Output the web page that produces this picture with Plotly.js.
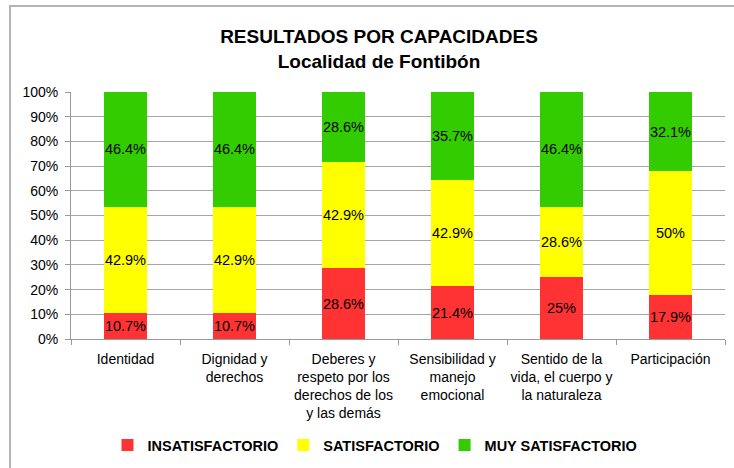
<!DOCTYPE html>
<html>
<head>
<meta charset="utf-8">
<script src="https://cdn.plot.ly/plotly-3.0.1.min.js"></script>
<style>
  html, body { margin: 0; padding: 0; background: #ffffff; overflow: hidden; }
  #frame { position: absolute; left: 9px; top: 5px; width: 800px; height: 600px; border: 2px solid #b4b4b4; box-sizing: border-box; }
  #chart { position: absolute; left: 0; top: 0; width: 734px; height: 468px; }
</style>
</head>
<body>
<div id="frame"></div>
<div id="chart"></div>
<script>
const categories = [
  "Identidad",
  "Dignidad y<br>derechos",
  "Deberes y<br>respeto por los<br>derechos de los<br>y las demás",
  "Sensibilidad y<br>manejo<br>emocional",
  "Sentido de la<br>vida, el cuerpo y<br>la naturaleza",
  "Participación"
];
const insatisfactorio = [10.7, 10.7, 28.6, 21.4, 25, 17.9];
const satisfactorio = [42.9, 42.9, 42.9, 42.9, 28.6, 50];
const muySatisfactorio = [46.4, 46.4, 28.6, 35.7, 46.4, 32.1];
const seriesNames = ["INSATISFACTORIO", "SATISFACTORIO", "MUY SATISFACTORIO"];
const seriesColors = ["#ff3333", "#ffff00", "#33cc00"];
const yTicks = [0, 10, 20, 30, 40, 50, 60, 70, 80, 90, 100];

const FONT = "Liberation Sans, Arial, Helvetica, sans-serif";

function makeTrace(values, i) {
  return {
    type: "bar",
    x: categories,
    y: values,
    name: "<b>" + seriesNames[i] + "</b>",
    marker: { color: seriesColors[i], line: { width: 0 } },
    text: values.map(v => v + "%"),
    textposition: "inside",
    insidetextanchor: "middle",
    textangle: 0,
    constraintext: "none",
    textfont: { family: FONT, size: 14.5, color: "#000000" },
    hoverinfo: "skip"
  };
}

const data = [
  makeTrace(insatisfactorio, 0),
  makeTrace(satisfactorio, 1),
  makeTrace(muySatisfactorio, 2)
];

const layout = {
  width: 734,
  height: 468,
  margin: { l: 71, r: 9, t: 92, b: 128 },
  paper_bgcolor: "rgba(0,0,0,0)",
  plot_bgcolor: "rgba(0,0,0,0)",
  barmode: "stack",
  bargap: 0.6,
  font: { family: FONT, size: 14, color: "#000000" },
  title: {
    text: "<b>RESULTADOS POR CAPACIDADES</b><br><b>Localidad de Fontibón</b>",
    font: { family: FONT, size: 19, color: "#000000" },
    xref: "container", x: 379 / 734, xanchor: "center",
    yref: "container", y: 1 - 43 / 468, yanchor: "top"
  },
  xaxis: {
    type: "category",
    showgrid: false,
    showline: true,
    linecolor: "#999999",
    linewidth: 1,
    ticks: "outside",
    tickson: "boundaries",
    ticklen: 5,
    tickcolor: "#999999",
    ticklabelstandoff: 7,
    tickfont: { family: FONT, size: 14, color: "#000000" },
    tickangle: 0,
    fixedrange: true
  },
  yaxis: {
    range: [0, 100],
    tickvals: yTicks,
    ticktext: yTicks.map(v => v + "%"),
    showgrid: true,
    gridcolor: "#a6a6a6",
    gridwidth: 1,
    showline: true,
    linecolor: "#999999",
    linewidth: 1,
    ticks: "outside",
    ticklen: 5,
    tickcolor: "#999999",
    ticklabelstandoff: 4,
    tickfont: { family: FONT, size: 14, color: "#000000" },
    zeroline: false,
    fixedrange: true
  },
  showlegend: true,
  legend: {
    orientation: "h",
    x: (375 - 71) / 654, xanchor: "center",
    y: (340 - 445) / 248, yanchor: "middle",
    font: { family: FONT, size: 14.5, color: "#000000" },
    itemclick: false, itemdoubleclick: false,
    traceorder: "normal"
  }
};

Plotly.newPlot("chart", data, layout, { displayModeBar: false, staticPlot: true });
</script>
</body>
</html>
